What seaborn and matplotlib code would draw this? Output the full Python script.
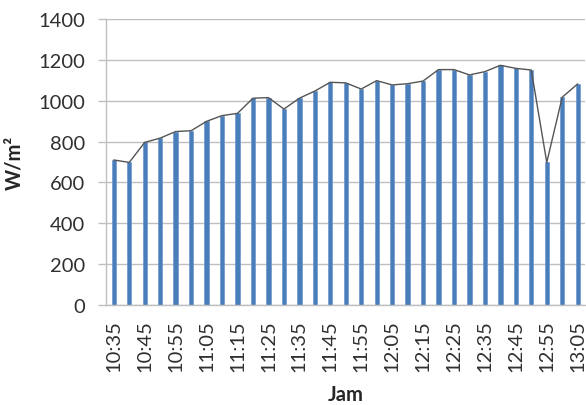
import numpy as np
import pandas as pd
import matplotlib
matplotlib.use("Agg")
import matplotlib.pyplot as plt
import seaborn as sns

# Irradiance readings every 5 minutes
times = ["10:35", "10:40", "10:45", "10:50", "10:55", "11:00", "11:05", "11:10",
         "11:15", "11:20", "11:25", "11:30", "11:35", "11:40", "11:45", "11:50",
         "11:55", "12:00", "12:05", "12:10", "12:15", "12:20", "12:25", "12:30",
         "12:35", "12:40", "12:45", "12:50", "12:55", "13:00", "13:05"]
irradiance = [710, 698, 796, 817, 849, 853, 899, 927, 938, 1012, 1015, 959,
              1012, 1047, 1090, 1087, 1057, 1098, 1077, 1083, 1096, 1152, 1152,
              1126, 1142, 1173, 1158, 1150, 698, 1017, 1082]
y_ticks = [0, 200, 400, 600, 800, 1000, 1200, 1400]

df = pd.DataFrame({"Jam": times, "W/m²": irradiance})

sns.set_theme(style="white")
plt.rcParams["font.family"] = ["Lato", "DejaVu Sans"]

fig = plt.figure(figsize=(5.86, 4.06), dpi=100)
ax = fig.add_axes([0.181, 0.246, 0.818, 0.705])

sns.barplot(data=df, x="Jam", y="W/m²", color="#4A7EBB", width=0.28,
            saturation=1, edgecolor="#6E98CC", linewidth=0.5, ax=ax, zorder=2)
sns.pointplot(data=df, x="Jam", y="W/m²", color="#555555", markers="",
              linestyles="-", linewidth=1.0, ax=ax, zorder=3)

ax.set_ylim(0, 1400)
ax.set_yticks(y_ticks)
ax.set_yticklabels([str(v) for v in y_ticks], fontsize=14.5, color="#303030")
ax.set_xlim(-0.5, len(times) - 0.5)
ax.set_xticks(range(0, len(times), 2))
ax.set_xticklabels(times[::2], rotation=90, fontsize=14.5, color="#303030")

ax.yaxis.grid(True, color="#BFBFBF", linewidth=1.0, zorder=0)
ax.set_axisbelow(True)
for side in ("top", "right"):
    ax.spines[side].set_visible(False)
ax.spines["left"].set_color("#BFBFBF")
ax.spines["bottom"].set_color("#BFBFBF")
ax.spines["left"].set_linewidth(1.0)
ax.spines["bottom"].set_linewidth(1.0)
ax.tick_params(axis="y", length=6, color="#BFBFBF", width=1.0, pad=9, left=True)
ax.tick_params(axis="x", length=0, pad=10)

ax.set_ylabel("W/m²", fontsize=14.5, fontweight="bold", labelpad=10)
ax.set_xlabel("Jam", fontsize=14.5, fontweight="bold")
ax.xaxis.label.set_va("center")
ax.xaxis.set_label_coords(0.5, -0.31)

fig.savefig("out.png", dpi=100)
